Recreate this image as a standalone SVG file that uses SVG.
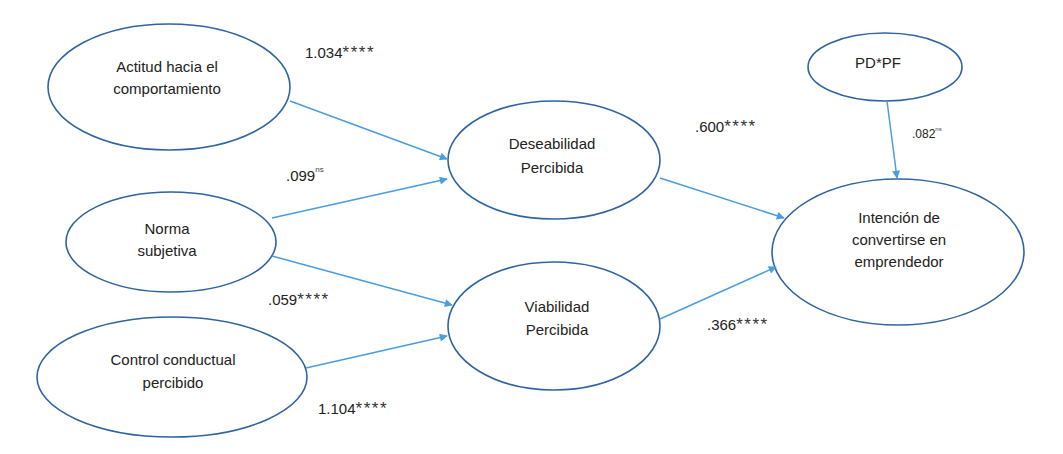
<svg xmlns="http://www.w3.org/2000/svg" width="1063" height="454" viewBox="0 0 1063 454">
<defs>
<style>
.node ellipse{fill:#fff;stroke:#2f64a0;stroke-width:1.6}
.node text,.lbl{font-family:"Liberation Sans",Arial,sans-serif;fill:#222;font-size:15px;text-anchor:middle}
.lbl{text-anchor:start;font-size:15px}
.st{letter-spacing:1.5px;font-size:17px;fill:#333}
.sup{font-size:8px;fill:#444}
#connectors line{stroke:#4a9ee0;stroke-width:1.5;marker-end:url(#arr)}
</style>
<marker id="arr" viewBox="0 0 10 10" refX="9" refY="5" markerWidth="9" markerHeight="8" markerUnits="userSpaceOnUse" orient="auto">
<path d="M0,0 L10,5 L0,10 z" fill="#4a9ee0"/>
</marker>
</defs>
<rect width="1063" height="454" fill="#fff"/>
<g id="n-actitud" class="node">
<ellipse cx="169" cy="87" rx="121" ry="63"/>
<text x="167" y="72">Actitud hacia el</text>
<text x="167" y="94">comportamiento</text>
</g>
<g id="n-norma" class="node">
<ellipse cx="171" cy="242" rx="105" ry="50"/>
<text x="167" y="234">Norma</text>
<text x="167" y="256">subjetiva</text>
</g>
<g id="n-control" class="node">
<ellipse cx="172" cy="377" rx="135" ry="60"/>
<text x="173" y="365">Control conductual</text>
<text x="173" y="388">percibido</text>
</g>
<g id="n-deseab" class="node">
<ellipse cx="554" cy="160" rx="106" ry="59"/>
<text x="552" y="149">Deseabilidad</text>
<text x="552" y="173">Percibida</text>
</g>
<g id="n-viab" class="node">
<ellipse cx="554" cy="326" rx="106" ry="64"/>
<text x="557" y="312">Viabilidad</text>
<text x="557" y="335">Percibida</text>
</g>
<g id="n-pdpf" class="node">
<ellipse cx="885" cy="67" rx="77" ry="34"/>
<text x="878" y="68">PD*PF</text>
</g>
<g id="n-intencion" class="node">
<ellipse cx="898" cy="252" rx="126" ry="73"/>
<text x="899" y="223">Intención de</text>
<text x="899" y="245">convertirse en</text>
<text x="899" y="267">emprendedor</text>
</g>
<g id="connectors">
<line x1="290" y1="101" x2="447" y2="159"/>
<line x1="272" y1="218" x2="447" y2="179"/>
<line x1="272" y1="256" x2="452" y2="305"/>
<line x1="306" y1="368" x2="447" y2="336"/>
<line x1="660" y1="178" x2="784" y2="218"/>
<line x1="660" y1="319" x2="776" y2="267"/>
<line x1="887" y1="101" x2="897" y2="178"/>
</g>
<g id="labels">
<text class="lbl" x="305" y="58">1.034<tspan class="st">****</tspan></text>
<text class="lbl" x="695" y="132">.600<tspan class="st">****</tspan></text>
<text class="lbl" x="286" y="181">.099<tspan class="sup" dy="-9">ns</tspan></text>
<text class="lbl" x="912" y="138" style="font-size:12px">.082<tspan class="sup" dy="-7" style="font-size:6px">ns</tspan></text>
<text class="lbl" x="268" y="305">.059<tspan class="st">****</tspan></text>
<text class="lbl" x="707" y="330">.366<tspan class="st">****</tspan></text>
<text class="lbl" x="318" y="414">1.104<tspan class="st">****</tspan></text>
</g>
</svg>
